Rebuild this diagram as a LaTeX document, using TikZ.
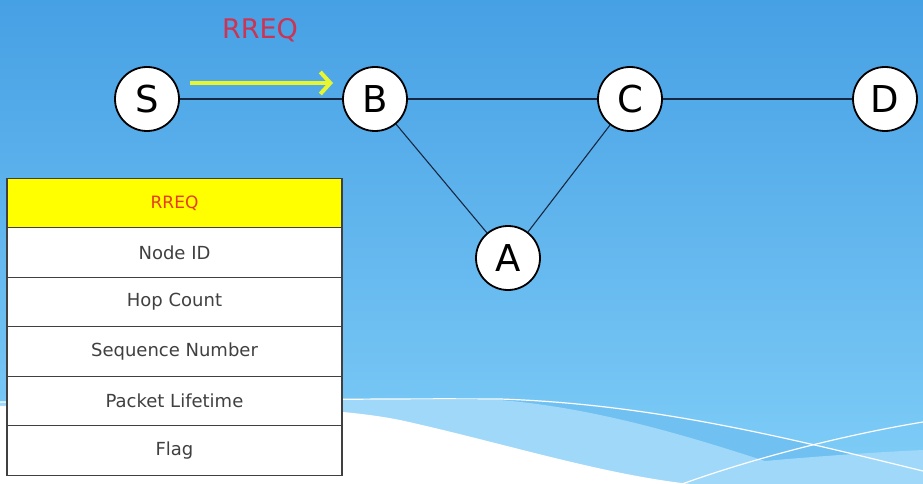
\documentclass[tikz,border=0pt]{standalone}
\usepackage{fontspec}
\setmainfont{DejaVu Sans}
\usetikzlibrary{arrows.meta}

\definecolor{bgtop}{RGB}{70,160,228}
\definecolor{bgbot}{RGB}{128,206,248}
\definecolor{bandmid}{RGB}{112,192,242}
\definecolor{bandblue}{RGB}{160,216,249}
\definecolor{linknavy}{RGB}{24,40,66}
\definecolor{arrowyellow}{RGB}{232,246,48}
\definecolor{msgred}{RGB}{204,52,84}
\definecolor{hdrred}{RGB}{232,60,24}
\definecolor{cellgray}{RGB}{64,64,64}
\definecolor{hdryellow}{RGB}{255,255,0}

\tikzset{
  peer/.style={circle, draw=black, line width=1.8pt, fill=white,
               minimum size=64pt, inner sep=0pt, font=\fontsize{37}{37}\selectfont},
  link/.style={draw=linknavy, line width=1.1pt},
  cell/.style={draw=black!75, line width=1.3pt, fill=white,
               minimum width=335pt, minimum height=49.5pt, inner sep=0pt,
               text=cellgray, font=\fontsize{18}{18}\selectfont},
  hdrcell/.style={cell, fill=hdryellow, text=hdrred, font=\fontsize{17}{17}\selectfont},
  sendarrow/.style={draw=arrowyellow, line width=4pt,
                    -{Straight Barb[length=10pt,width=22pt,line width=4pt]}}
}

\begin{document}
\begin{tikzpicture}[x=1pt,y=-1pt]
  \useasboundingbox (0,0) rectangle (923,484);

  % backdrop: vertical blue gradient
  \shade[top color=bgtop, bottom color=bgbot] (0,0) rectangle (923,484);

  % swoosh along the lower edge: mid band, light band, white wave, thin lines
  \fill[bandmid] (0,402) .. controls (200,402) and (330,398) .. (500,399)
        .. controls (650,404) and (780,436) .. (923,471) -- (923,484) -- (0,484) -- cycle;
  \fill[bandblue] (0,402) .. controls (200,402) and (330,398) .. (500,400)
        .. controls (600,408) and (700,440) .. (765,461)
        .. controls (820,456) and (880,452) .. (923,450) -- (923,484) -- (0,484) -- cycle;
  \fill[white] (0,406) .. controls (220,404) and (330,406) .. (400,420)
        .. controls (500,442) and (600,474) .. (690,484) -- (0,484) -- cycle;
  \draw[white, line width=1.2pt] (0,402) .. controls (200,402) and (330,398) .. (500,399)
        .. controls (650,404) and (780,436) .. (923,471);
  \draw[white, line width=1.2pt] (682,484) .. controls (760,456) and (850,434) .. (923,422);

  % network nodes
  \node[peer] (S) at (147,99) {S};
  \node[peer] (B) at (375,99) {B};
  \node[peer] (C) at (630,99) {C};
  \node[peer] (D) at (885,99) {D};
  \node[peer] (A) at (508,258) {A};

  % links
  \draw[link] (S) -- (B);
  \draw[link] (B) -- (C);
  \draw[link] (C) -- (D);
  \draw[link] (B) -- (A);
  \draw[link] (A) -- (C);

  % request in flight from S to B
  \coordinate (sendfrom) at (190,83);
  \coordinate (sendto) at (333,83);
  \draw[sendarrow] (sendfrom) -- (sendto);
  \node[text=msgred, font=\fontsize{27}{27}\selectfont] (msg) at (260,30) {RREQ};

  % RREQ packet fields
  \node[hdrcell] (f0) at (174.5,203)   {RREQ};
  \node[cell]    (f1) at (174.5,252.5) {Node ID};
  \node[cell]    (f2) at (174.5,302)   {Hop Count};
  \node[cell]    (f3) at (174.5,351.5) {Sequence Number};
  \node[cell]    (f4) at (174.5,401)   {Packet Lifetime};
  \node[cell]    (f5) at (174.5,450.5) {Flag};
\end{tikzpicture}
\end{document}
